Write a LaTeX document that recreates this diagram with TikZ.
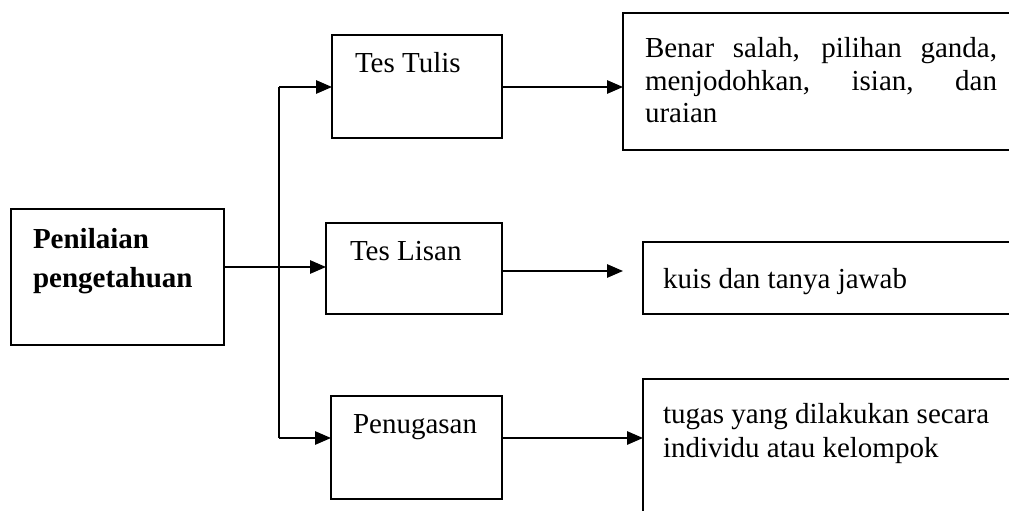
\documentclass[tikz,border=0pt]{standalone}
\usepackage{fontspec}
\setmainfont{Liberation Serif}
\usetikzlibrary{arrows.meta}
\tikzset{
  box/.style={draw, line width=1.4pt, rectangle, inner sep=0pt, outer sep=0pt, anchor=north west},
  txt/.style={inner sep=0pt, outer sep=0pt, anchor=base west, font=\fontsize{21.75pt}{24pt}\selectfont},
  btxt/.style={txt, font=\fontsize{21.75pt}{24pt}\selectfont\bfseries},
  conn/.style={line width=1.4pt},
  arr/.style={conn, -{Triangle[length=12pt,width=10pt]}}
}
\begin{document}
\begin{tikzpicture}[x=0.75pt,y=-0.75pt]
\useasboundingbox (0,0) rectangle (1009,510);
\clip (0,0) rectangle (1009,510);
% boxes
\node[box, minimum width=159.75pt, minimum height=102pt] (lb) at (11,209) {};
\node[box, minimum width=127.5pt, minimum height=77.25pt] (tt) at (332,35) {};
\node[box, minimum width=132pt, minimum height=68.25pt] (tl) at (326,223) {};
\node[box, minimum width=128.25pt, minimum height=77.25pt] (pg) at (331,396) {};
\node[box, minimum width=297.75pt, minimum height=102.75pt] (tr) at (623,13) {};
\node[box, minimum width=282.75pt, minimum height=54pt] (mr) at (643,242) {};
\node[box, minimum width=282.75pt, minimum height=113.25pt] (br) at (643,379) {};
% texts
\node[btxt] (lb1) at (33,248) {Penilaian};
\node[btxt] (lb2) at (33,287) {pengetahuan};
\node[txt] (ttt) at (355,73) {Tes Tulis};
\node[txt] (tlt) at (350,260) {Tes Lisan};
\node[txt] (pgt) at (353,433) {Penugasan};
\node[txt] (tr1) at (645,58) {\makebox[264pt][s]{Benar salah, pilihan ganda,}};
\node[txt] (tr2) at (645,90) {\makebox[264pt][s]{menjodohkan, isian, dan}};
\node[txt] (tr3) at (645,122) {uraian};
\node[txt] (mrt) at (663,288) {kuis dan tanya jawab};
\node[txt] (br1) at (663,423) {tugas yang dilakukan secara};
\node[txt] (br2) at (663,457) {individu atau kelompok};
% trunk
\coordinate (trTop) at (279,87);
\coordinate (trBot) at (279,438);
\coordinate (lisIn) at (279,267);
\draw[conn] (trTop) -- (trBot);
\draw[arr] (trTop) -- (trTop -| tt.west);
\draw[arr] (trBot) -- (trBot -| pg.west);
\draw[arr] (lisIn -| lb.east) -- (lisIn -| tl.west);
% outputs
\coordinate (ttOut) at (502,87);
\draw[arr] (ttOut -| tt.east) -- (ttOut -| tr.west);
\coordinate (tlOut) at (502,271);
\coordinate (tlEnd) at (623,271);
\draw[arr] (tlOut -| tl.east) -- (tlEnd);
\coordinate (pgOut) at (502,438);
\draw[arr] (pgOut -| pg.east) -- (pgOut -| br.west);
\end{tikzpicture}
\end{document}
